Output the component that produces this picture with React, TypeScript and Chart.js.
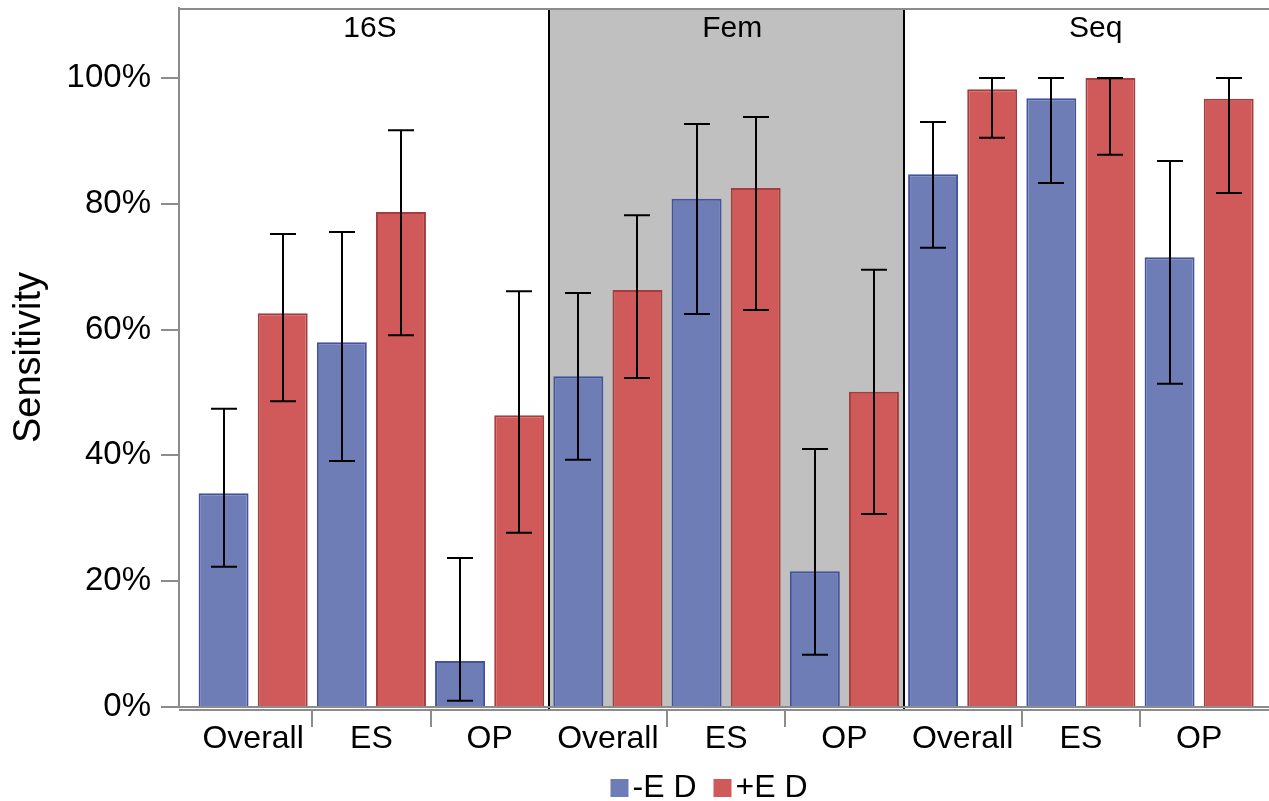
import React, { useEffect, useRef } from 'react';
import { Chart, registerables } from 'chart.js';

Chart.register(...registerables);

const panels = ['16S', 'Fem', 'Seq'];
const categories = ['Overall', 'ES', 'OP', 'Overall', 'ES', 'OP', 'Overall', 'ES', 'OP'];
const seriesLabels = ['-E D', '+E D'];
const minusED = [34.0, 58.0, 7.3, 52.6, 80.8, 21.6, 84.7, 96.8, 71.5];
const minusLow = [22.3, 39.1, 1.0, 39.3, 62.5, 8.3, 73.0, 83.3, 51.4];
const minusHigh = [47.4, 75.5, 23.7, 65.8, 92.7, 41.0, 93.0, 100, 86.8];
const plusED = [62.6, 78.7, 46.4, 66.3, 82.5, 50.1, 98.2, 100, 96.7];
const plusLow = [48.6, 59.1, 27.7, 52.3, 63.1, 30.7, 90.5, 87.8, 81.7];
const plusHigh = [75.2, 91.7, 66.1, 78.2, 93.8, 69.5, 100, 100, 100];
const yTicks = [0, 20, 40, 60, 80, 100];

const FONT = '"Liberation Sans", Arial, Helvetica, sans-serif';
const CANVAS_W = 1290;
const CANVAS_H = 801;
const FRAME = '#8c8c8c';

export default function App() {
  const ref = useRef<HTMLCanvasElement>(null);

  useEffect(() => {
    if (!ref.current) return;
    const lows = [minusLow, plusLow];
    const highs = [minusHigh, plusHigh];

    const decor = {
      id: 'decor',
      beforeDatasetsDraw(chart: any) {
        const { ctx, chartArea: a, scales } = chart;
        const x = scales.x;
        const x0 = x.getPixelForValue(2.5);
        const x1 = x.getPixelForValue(5.5);
        ctx.save();
        ctx.fillStyle = '#c0c0c0';
        ctx.fillRect(x0, a.top, x1 - x0, a.bottom - a.top);
        ctx.restore();
      },
      afterDatasetsDraw(chart: any) {
        const { ctx, chartArea: a, scales } = chart;
        const x = scales.x;
        const y = scales.y;
        ctx.save();
        // error bars
        ctx.strokeStyle = '#000';
        ctx.lineWidth = 2;
        for (let d = 0; d < 2; d++) {
          const meta = chart.getDatasetMeta(d);
          meta.data.forEach((bar: any, i: number) => {
            const cx = Math.round(bar.x);
            const yl = y.getPixelForValue(lows[d][i]);
            const yh = y.getPixelForValue(highs[d][i]);
            ctx.beginPath();
            ctx.moveTo(cx, yl);
            ctx.lineTo(cx, yh);
            ctx.moveTo(cx - 13, yl);
            ctx.lineTo(cx + 13, yl);
            ctx.moveTo(cx - 13, yh);
            ctx.lineTo(cx + 13, yh);
            ctx.stroke();
          });
        }
        // panel dividers
        ctx.strokeStyle = '#000';
        ctx.lineWidth = 2;
        [2.5, 5.5].forEach((v) => {
          const px = Math.round(x.getPixelForValue(v));
          ctx.beginPath();
          ctx.moveTo(px, a.top);
          ctx.lineTo(px, a.bottom + 3);
          ctx.stroke();
        });
        // frame
        ctx.strokeStyle = FRAME;
        ctx.lineWidth = 2;
        ctx.beginPath();
        ctx.moveTo(a.left, a.top + 1);
        ctx.lineTo(a.right, a.top + 1);
        ctx.moveTo(a.left, a.bottom);
        ctx.lineTo(a.right, a.bottom);
        ctx.moveTo(a.left, a.bottom + 3);
        ctx.lineTo(a.right, a.bottom + 3);
        ctx.stroke();
        // group tick marks
        [0.5, 1.5, 3.5, 4.5, 6.5, 7.5].forEach((v) => {
          const px = Math.round(x.getPixelForValue(v));
          ctx.beginPath();
          ctx.moveTo(px, a.bottom + 3);
          ctx.lineTo(px, a.bottom + 20);
          ctx.stroke();
        });
        // panel headers
        ctx.fillStyle = '#000';
        ctx.font = `30px ${FONT}`;
        ctx.textAlign = 'center';
        ctx.textBaseline = 'middle';
        const edges = [a.left, x.getPixelForValue(2.5), x.getPixelForValue(5.5), a.right];
        panels.forEach((p, k) => {
          ctx.fillText(p, (edges[k] + edges[k + 1]) / 2 + 6, a.top + 21);
        });
        // legend
        ctx.font = `32px ${FONT}`;
        ctx.textAlign = 'left';
        const items = chart.data.datasets.map((ds: any) => ({
          label: ds.label,
          fill: ds.backgroundColor,
          w: ctx.measureText(ds.label).width,
        }));
        const box = 18;
        const gapBoxText = 4;
        const gapItems = 17;
        let total = 0;
        items.forEach((it: any, i: number) => {
          total += box + gapBoxText + it.w + (i < items.length - 1 ? gapItems : 0);
        });
        let lx = 709 - total / 2;
        const ly = 788;
        items.forEach((it: any) => {
          ctx.fillStyle = it.fill;
          ctx.fillRect(lx, ly - box / 2, box, box);
          ctx.fillStyle = '#000';
          ctx.fillText(it.label, lx + box + gapBoxText, ly);
          lx += box + gapBoxText + it.w + gapItems;
        });
        ctx.restore();
      },
    };

    const chart = new Chart(ref.current, {
      type: 'bar',
      data: {
        datasets: [
          {
            label: seriesLabels[0],
            data: minusED.map((v, i) => ({ x: i, y: v })),
            backgroundColor: '#6e7db5',
            borderColor: '#42529c',
            borderWidth: 2,
            categoryPercentage: 1,
            barPercentage: 0.845,
          },
          {
            label: seriesLabels[1],
            data: plusED.map((v, i) => ({ x: i, y: v })),
            backgroundColor: '#d05a5a',
            borderColor: '#a43e3e',
            borderWidth: 2,
            categoryPercentage: 1,
            barPercentage: 0.845,
          },
        ],
      },
      plugins: [decor],
      options: {
        animation: false,
        responsive: false,
        devicePixelRatio: 1,
        layout: { padding: { left: 0, right: CANVAS_W - 1276, top: 8, bottom: 0 } },
        plugins: { legend: { display: false }, tooltip: { enabled: false } },
        scales: {
          x: {
            type: 'linear',
            offset: false,
            min: -0.627,
            max: 8.65,
            afterBuildTicks: (scale: any) => {
              scale.ticks = categories.map((_, i) => ({ value: i }));
            },
            afterFit: (scale: any) => {
              scale.height = 94;
              scale.paddingLeft = 0;
              scale.paddingRight = 0;
            },
            grid: { display: false, drawTicks: false },
            border: { display: false },
            ticks: {
              autoSkip: false,
              maxRotation: 0,
              padding: 13,
              color: '#000',
              font: { family: FONT, size: 32 },
              callback: (v: any) => categories[v as number] ?? '',
            },
          },
          y: {
            min: 0,
            max: 111.13,
            afterBuildTicks: (scale: any) => {
              scale.ticks = yTicks.map((v) => ({ value: v }));
            },
            afterFit: (scale: any) => {
              scale.width = 179;
              scale.paddingTop = 0;
              scale.paddingBottom = 0;
            },
            grid: {
              display: true,
              drawOnChartArea: false,
              drawTicks: true,
              tickLength: 18,
              color: FRAME,
              lineWidth: 2,
            },
            border: { display: true, color: FRAME, width: 2 },
            ticks: {
              padding: 10,
              color: '#000',
              font: { family: FONT, size: 33 },
              callback: (v: any) => `${v}%`,
            },
            title: {
              display: true,
              text: 'Sensitivity',
              color: '#000',
              font: { family: FONT, size: 38 },
              padding: { top: 7, bottom: 0 },
            },
          },
        },
      },
    } as any);

    return () => chart.destroy();
  }, []);

  return (
    <div style={{ position: 'fixed', left: 0, top: 0, width: 1269, height: 801, overflow: 'hidden', background: '#fff' }}>
      <canvas ref={ref} width={CANVAS_W} height={CANVAS_H} style={{ display: 'block', width: CANVAS_W, height: CANVAS_H }} />
    </div>
  );
}
